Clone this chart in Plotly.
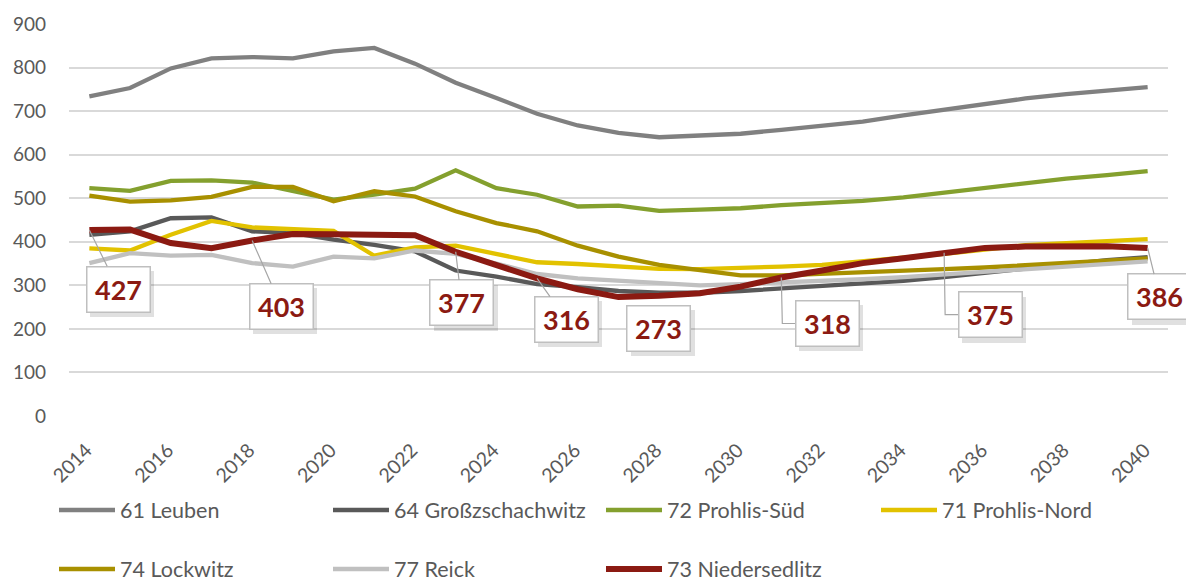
import plotly.graph_objects as go

years = list(range(2014, 2041))

leuben = [734, 753, 798, 821, 824, 821, 837, 845, 809, 765, 730, 694, 667, 650, 640, 644, 648, 657, 666,
          676, 690, 703, 717, 729, 739, 748, 755]
grosszschachwitz = [416, 424, 454, 456, 424, 420, 405, 393, 378, 334, 320, 303, 296, 287, 283, 283, 287,
                    293, 297, 303, 310, 319, 329, 340, 350, 358, 365]
prohlis_sued = [523, 517, 540, 541, 536, 516, 497, 508, 522, 564, 523, 508, 481, 483, 471, 474, 477, 484,
                489, 494, 502, 513, 525, 535, 545, 553, 562]
prohlis_nord = [385, 380, 416, 448, 433, 429, 425, 368, 387, 391, 372, 353, 349, 343, 338, 337, 339, 343,
                347, 355, 362, 372, 382, 392, 397, 402, 406]
lockwitz = [506, 492, 495, 503, 526, 526, 493, 516, 504, 470, 443, 424, 391, 366, 347, 334, 323, 323, 326,
            329, 333, 337, 341, 346, 351, 356, 362]
reick = [351, 374, 368, 370, 351, 343, 366, 362, 380, 372, 350, 326, 316, 310, 305, 300, 303, 306, 310,
         314, 319, 325, 331, 337, 343, 349, 355]
niedersedlitz = [427, 428, 397, 385, 403, 418, 417, 416, 415, 377, 345, 316, 291, 273, 276, 282, 297, 318,
                 334, 351, 362, 375, 386, 389, 391, 390, 386]

series_names = ["61 Leuben", "64 Großzschachwitz", "72 Prohlis-Süd", "71 Prohlis-Nord",
                "74 Lockwitz", "77 Reick", "73 Niedersedlitz"]
series_values = [leuben, grosszschachwitz, prohlis_sued, prohlis_nord, lockwitz, reick, niedersedlitz]
series_colors = ["#808080", "#595959", "#84A02E", "#E2C200", "#A89000", "#C0C0C0", "#8B1A12"]
series_widths = [4.3, 4.3, 4.3, 4.3, 4.3, 4.3, 6]

label_years = [2014, 2018, 2023, 2025, 2027, 2031, 2035, 2040]
# box offsets (pixels) relative to the labelled point
label_dx = [29, 29, 6, 29, 40, 46, 46, 12]
label_dy = [59, 66, 51, 41, 31, 46, 62, 49]
label_elbow = [False, False, False, False, False, True, True, False]
label_arrow = [True, True, True, True, False, False, False, True]

FONT = "Lato, 'Open Sans', sans-serif"
TEXT = "#595959"

# legend placement (container px): left edge of legend box, row centre
leg_x = [54, 328, 601, 876, 54, 328, 601]
leg_y = [510, 510, 510, 510, 569, 569, 569]

W, H = 1186, 583

fig = go.Figure()
for i, (name, vals, col, wd) in enumerate(zip(series_names, series_values, series_colors, series_widths)):
    lg = "legend" if i == 0 else f"legend{i+1}"
    fig.add_trace(go.Scatter(
        x=years, y=vals, mode="lines", name=name,
        line=dict(color=col, width=wd),
        legend=lg, hoverinfo="x+y+name",
    ))

layout_legends = {}
for i in range(len(series_names)):
    key = "legend" if i == 0 else f"legend{i+1}"
    layout_legends[key] = dict(
        x=leg_x[i] / W, y=1 - leg_y[i] / H, xref="container", yref="container",
        xanchor="left", yanchor="middle", bgcolor="rgba(0,0,0,0)",
        font=dict(family=FONT, size=21.5, color=TEXT), itemwidth=56,
    )

annotations = []
shapes = []
for yr, dx, dy, elbow, arrow in zip(label_years, label_dx, label_dy, label_elbow, label_arrow):
    v = niedersedlitz[years.index(yr)]
    # shadow
    annotations.append(dict(
        x=yr, y=v, xref="x", yref="y", ax=dx + 4, ay=dy + 5, axref="pixel", ayref="pixel",
        showarrow=True, arrowcolor="rgba(0,0,0,0)", arrowwidth=0.1, arrowhead=0,
        text="", width=62, height=44, bgcolor="rgba(0,0,0,0.12)", borderwidth=0,
    ))
    annotations.append(dict(
        x=yr, y=v, xref="x", yref="y", ax=dx, ay=dy, axref="pixel", ayref="pixel",
        showarrow=True, arrowhead=0, arrowwidth=1.2,
        arrowcolor="#A6A6A6" if arrow else "rgba(0,0,0,0)",
        text=f"<b>{v}</b>", font=dict(family=FONT, size=27, color="#8B1A12"),
        width=62, height=44, bgcolor="white", bordercolor="#BFBFBF", borderwidth=1.5, borderpad=0,
        standoff=0,
    ))
    if elbow:
        shapes.append(dict(
            type="path", xref="x", yref="y", xsizemode="pixel", ysizemode="pixel",
            xanchor=yr, yanchor=v,
            path=f"M0,0 L1,{-dy} L{dx - 32},{-dy}",
            line=dict(color="#A6A6A6", width=1.2), layer="above",
        ))

fig.update_layout(
    width=W, height=H,
    margin=dict(l=69, r=18, t=24, b=167, autoexpand=False),
    paper_bgcolor="white", plot_bgcolor="white",
    font=dict(family=FONT, size=19, color=TEXT),
    showlegend=True,
    xaxis=dict(
        range=[2013.5, 2040.5], tickmode="array", tickvals=list(range(2014, 2041, 2)),
        ticktext=[str(y) for y in range(2014, 2041, 2)], tickangle=-45,
        showgrid=False, zeroline=False, showline=False, ticks="",
        ticklabelstandoff=18, ticklabelshift=-3,
        tickfont=dict(family=FONT, size=19.5, color=TEXT), automargin=False,
    ),
    yaxis=dict(
        range=[0, 900], tickvals=list(range(0, 901, 100)), showgrid=True,
        gridcolor="#D9D9D9", gridwidth=1.5, zeroline=False, showline=False, ticks="",
        ticklabelstandoff=22, tickfont=dict(family=FONT, size=19, color=TEXT), automargin=False,
    ),
    annotations=annotations,
    shapes=shapes,
    **layout_legends,
)

fig.write_html(
    "out.html",
    config={"displayModeBar": False},
    post_script="document.body.style.margin='0';document.body.style.overflow='hidden';",
)
